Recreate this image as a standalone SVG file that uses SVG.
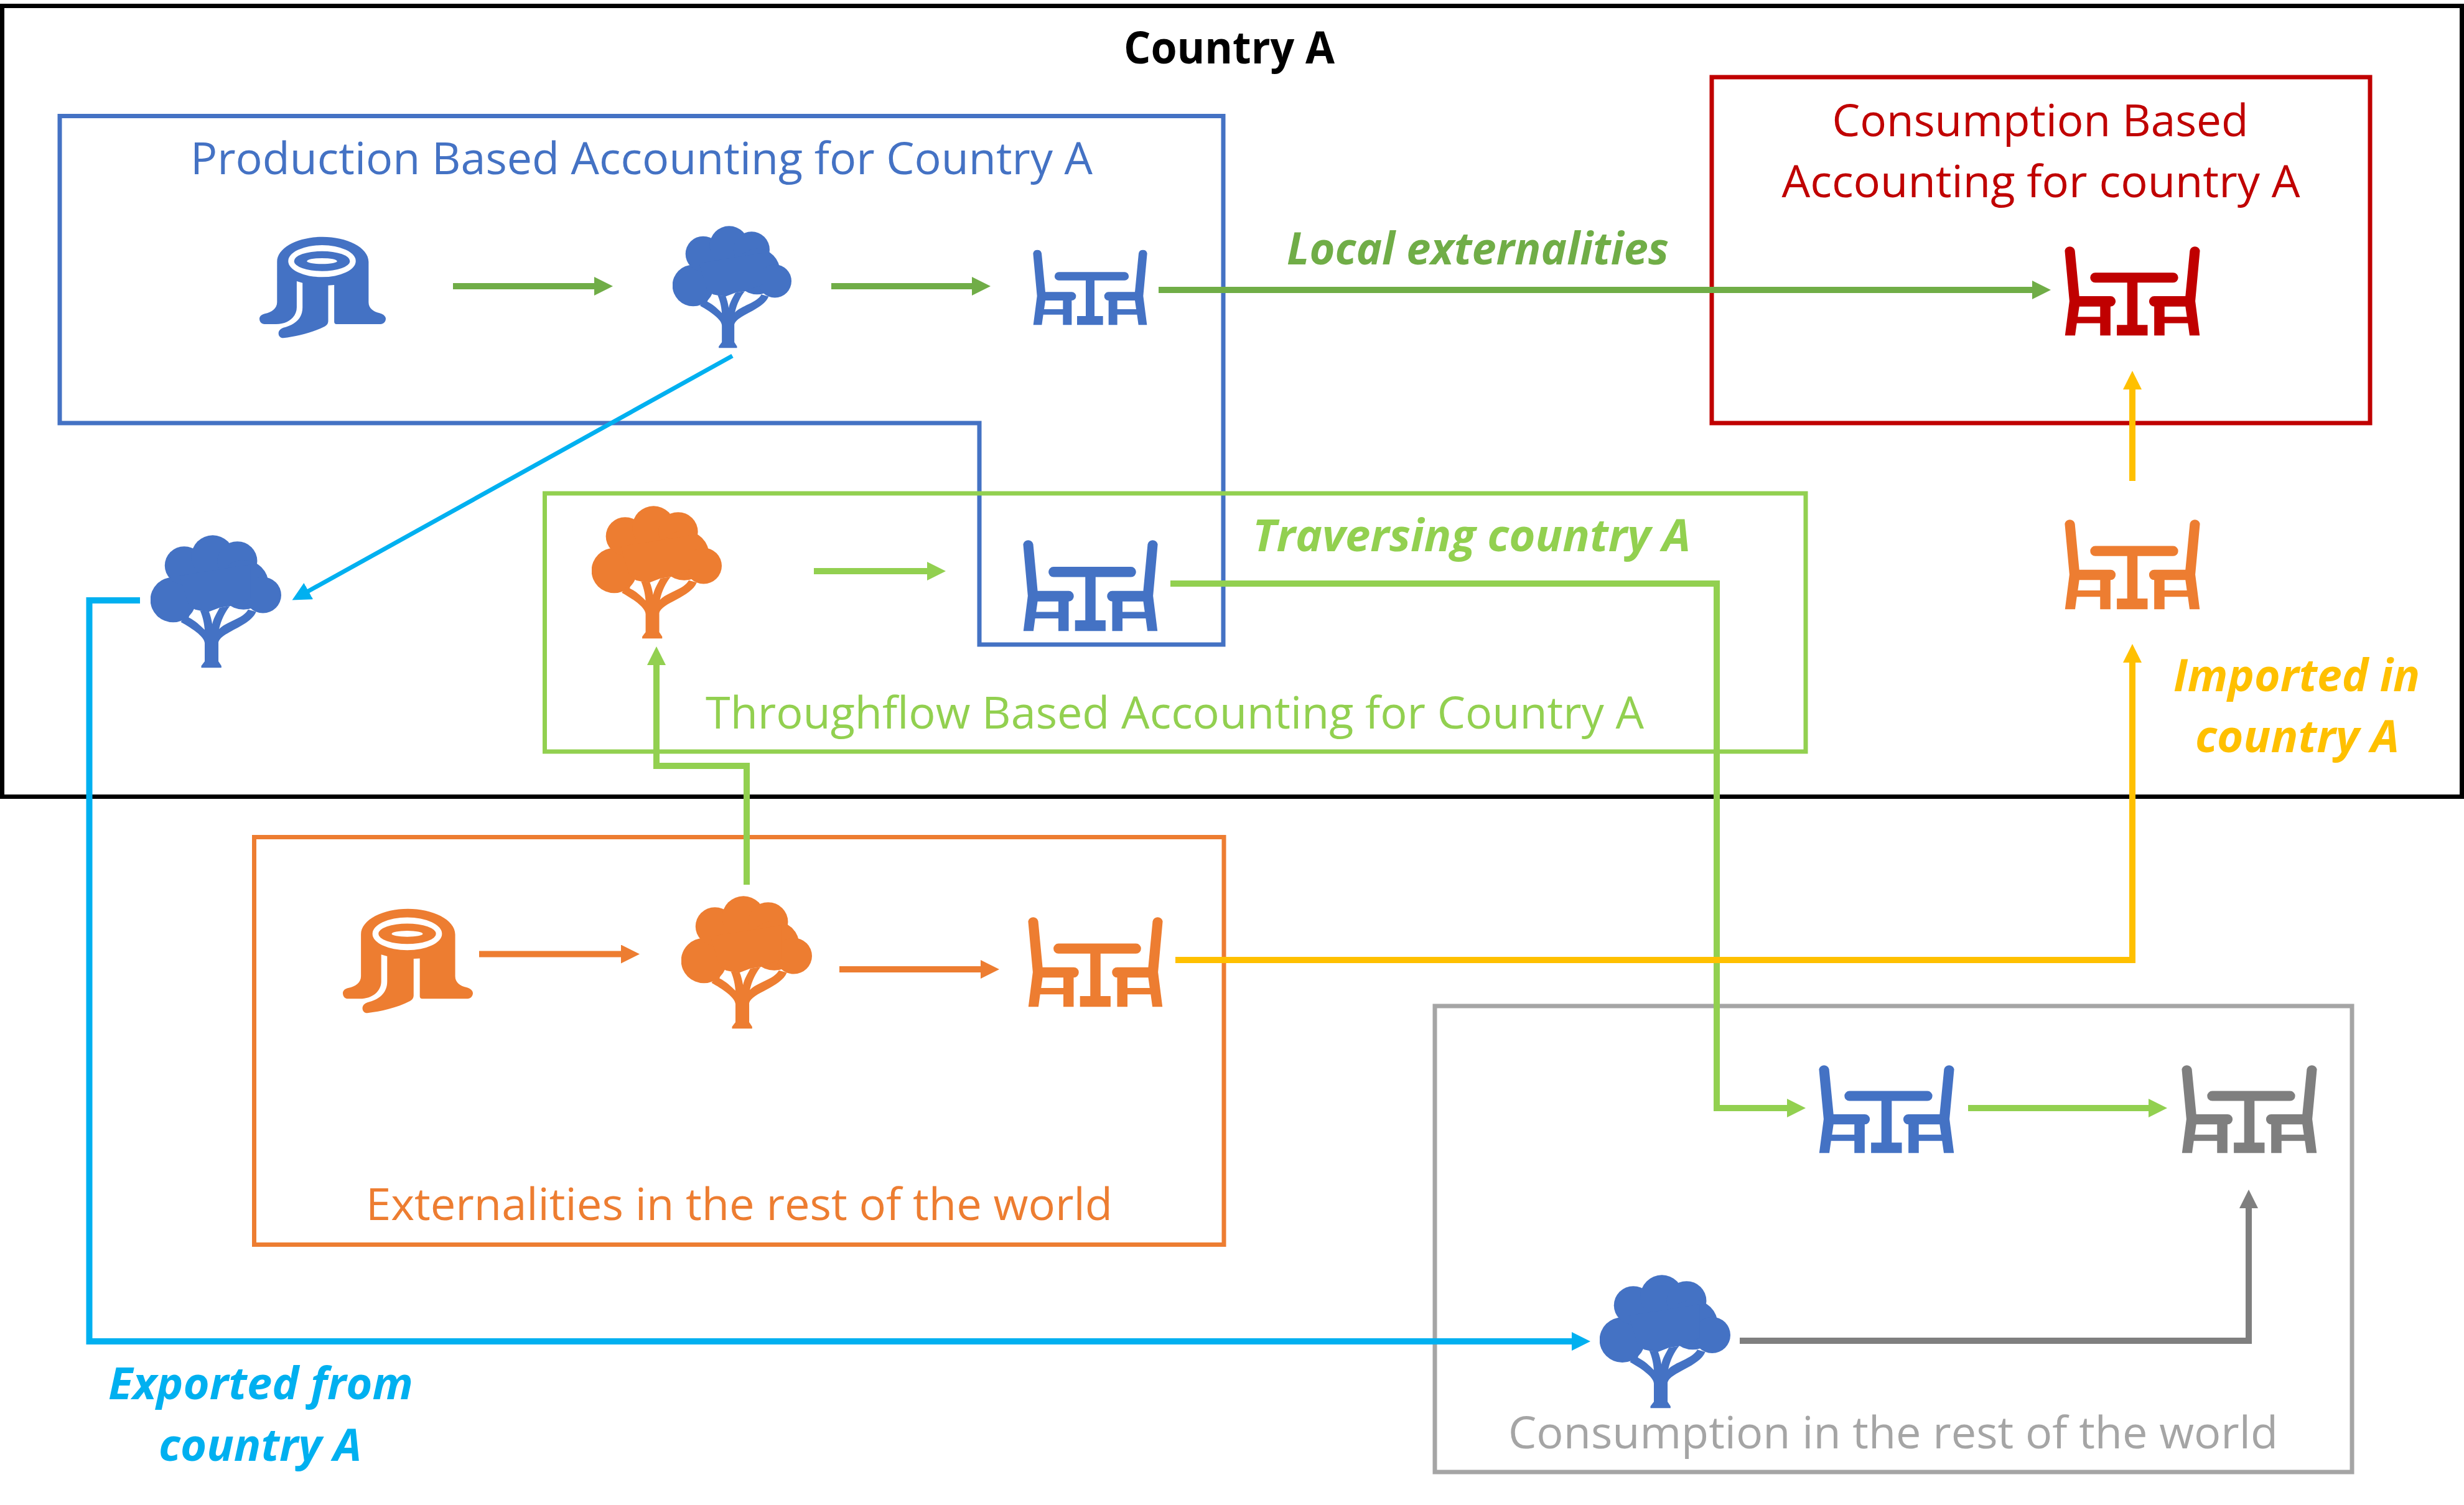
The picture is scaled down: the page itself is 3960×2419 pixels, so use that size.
<svg xmlns="http://www.w3.org/2000/svg" width="3960" height="2419" viewBox="0 0 3960 2419">
<style>
text{font-family:"Open Sans","Noto Sans","Liberation Sans",sans-serif;font-size:72px}
.b{font-weight:700;font-style:italic}
.box{fill:none;stroke-width:7}
.c{fill:none;stroke-width:10}
.thin{stroke-width:7}
.blue{fill:#4472C4}.orange{fill:#ED7D31}.red{fill:#C00000}.gray{fill:#7F7F7F}.lg{fill:#92D050}.mg{fill:#70AD47}.cy{fill:#00B0F0}.ye{fill:#FFC000}.dg{fill:#A5A5A5}
</style>
<defs>
<symbol id="tree" viewBox="123 70 572 590" preserveAspectRatio="none">
<circle cx="222" cy="357" r="100"/><circle cx="270" cy="205" r="85"/><circle cx="395" cy="165" r="94"/><circle cx="503" cy="185" r="87"/><circle cx="530" cy="290" r="110"/><circle cx="615" cy="336" r="80"/>
<path d="M250 250L560 200V350L470 385L425 392L378 410L340 405L318 400L290 380Z"/>
<path d="M255 455C300 480 360 520 360 550V630L345 650V658H433V650L420 630V545C430 500 560 475 585 410L550 400C530 440 450 455 423 487C432 445 450 410 470 385L425 392C410 420 398 440 393 465C390 445 385 425 378 408L340 405C355 440 358 470 360 490C340 470 320 450 290 435L300 400Z"/>
</symbol>
<symbol id="stump" viewBox="110 118 610 492" preserveAspectRatio="none">
<path fill-rule="evenodd" d="M195 240C195 170 300 120 415 120C530 120 637 170 637 240V435C637 465 660 480 690 488C710 493 720 505 720 515C720 530 708 541 695 541H482C475 541 471 537 471 530V352L442 354V525C442 535 438 545 425 552C360 585 290 600 225 608C210 608 202 597 202 585C202 572 212 563 225 558C280 545 318 515 318 460V342L290 334V460C290 505 250 541 190 541H135C120 541 110 530 110 515C110 503 120 495 135 491C170 483 195 465 195 435ZM249 237a163 77 0 1 0 326 0a163 77 0 1 0-326 0ZM277 237a135 48 0 1 0 270 0a135 48 0 1 0-270 0ZM339 237a73 14 0 1 0 146 0a73 14 0 1 0-146 0Z"/>
</symbol>
<symbol id="chair" viewBox="120 90 552 370" preserveAspectRatio="none">
<path fill-rule="evenodd" d="M121 112A21 21 0 0 1 162 112L180 298H307A21 21 0 0 1 307 340V458H265V408H170L163 458H122L140 318ZM180 340H265V382H174ZM671 112A21 21 0 0 0 630 112L612 298H485A21 21 0 0 0 485 340V458H527V408H622L629 458H670L652 318ZM612 340H527V382H618Z"/>
<path d="M245 202H562A20 20 0 0 1 562 243H417V415H458V458H333V415H375V243H245A20 20 0 0 1 245 202Z"/>
</symbol>
<marker id="aMg" markerUnits="userSpaceOnUse" markerWidth="32" markerHeight="32" refX="2" refY="15" orient="auto"><path class="mg" d="M0 0L30 15L0 30Z"/></marker>
<marker id="aLg" markerUnits="userSpaceOnUse" markerWidth="32" markerHeight="32" refX="2" refY="15" orient="auto"><path class="lg" d="M0 0L30 15L0 30Z"/></marker>
<marker id="aCy" markerUnits="userSpaceOnUse" markerWidth="32" markerHeight="32" refX="2" refY="15" orient="auto"><path class="cy" d="M0 0L30 15L0 30Z"/></marker>
<marker id="aYe" markerUnits="userSpaceOnUse" markerWidth="32" markerHeight="32" refX="2" refY="15" orient="auto"><path class="ye" d="M0 0L30 15L0 30Z"/></marker>
<marker id="aOr" markerUnits="userSpaceOnUse" markerWidth="32" markerHeight="32" refX="2" refY="15" orient="auto"><path class="orange" d="M0 0L30 15L0 30Z"/></marker>
<marker id="aGr" markerUnits="userSpaceOnUse" markerWidth="32" markerHeight="32" refX="2" refY="15" orient="auto"><path class="gray" d="M0 0L30 15L0 30Z"/></marker>
</defs>
<rect width="3960" height="2419" fill="#fff"/>
<g id="country-a"><rect class="box" x="3.5" y="9.5" width="3953" height="1271" stroke="#000"/>
<text x="1975.5" y="102" text-anchor="middle" font-weight="700" fill="#000" textLength="339" lengthAdjust="spacingAndGlyphs">Country A</text></g>
<g id="production-box"><path class="box" stroke="#4472C4" d="M96 186.5H1966V1036H1574V680H96Z"/>
<text class="blue" x="306" y="280" textLength="1450" lengthAdjust="spacingAndGlyphs">Production Based Accounting for Country A</text></g>
<g id="consumption-box"><rect class="box" x="2751" y="124" width="1058" height="556" stroke="#C00000"/>
<text class="red" x="3279" y="219" text-anchor="middle" textLength="669" lengthAdjust="spacingAndGlyphs">Consumption Based</text>
<text class="red" x="3280" y="317" text-anchor="middle" textLength="833" lengthAdjust="spacingAndGlyphs">Accounting for country A</text></g>
<g id="throughflow-box"><rect class="box" x="875.5" y="793" width="2026.5" height="415" stroke="#92D050"/>
<text class="lg" x="1134" y="1171" textLength="1508" lengthAdjust="spacingAndGlyphs">Throughflow Based Accounting for Country A</text></g>
<g id="externalities-box"><rect class="box" x="408.5" y="1345.5" width="1558.5" height="655" stroke="#ED7D31"/>
<text class="orange" x="588" y="1961" textLength="1200" lengthAdjust="spacingAndGlyphs">Externalities in the rest of the world</text></g>
<g id="rest-box"><rect class="box" x="2306" y="1617" width="1474" height="749" stroke="#A5A5A5"/>
<text class="dg" x="2424" y="2328" textLength="1237" lengthAdjust="spacingAndGlyphs">Consumption in the rest of the world</text></g>
<g id="stump-a"><use class="blue" href="#stump" x="417" y="380" width="203" height="164"/></g>
<g id="tree-a"><use class="blue" href="#tree" x="1081" y="363" width="191" height="197"/></g>
<g id="chair-a"><use class="blue" href="#chair" x="1660" y="400" width="184" height="123"/></g>
<g id="chair-red"><use class="red" href="#chair" x="3318" y="394" width="218" height="146"/></g>
<g id="chair-imported"><use class="orange" href="#chair" x="3318" y="833" width="218" height="147"/></g>
<g id="chair-traversing"><use class="blue" href="#chair" x="1644" y="866" width="217" height="149"/></g>
<g id="tree-exported"><use class="blue" href="#tree" x="242" y="860" width="210" height="214"/></g>
<g id="tree-traversing"><use class="orange" href="#tree" x="951" y="813" width="209" height="214"/></g>
<g id="stump-row"><use class="orange" href="#stump" x="551" y="1460" width="209" height="169"/></g>
<g id="tree-row"><use class="orange" href="#tree" x="1095" y="1440" width="210" height="214"/></g>
<g id="chair-row"><use class="orange" href="#chair" x="1652" y="1472" width="217" height="147"/></g>
<g id="chair-rest-blue"><use class="blue" href="#chair" x="2923" y="1710" width="218" height="144"/></g>
<g id="chair-rest-gray"><use class="gray" href="#chair" x="3506" y="1710" width="218" height="144"/></g>
<g id="tree-rest"><use class="blue" href="#tree" x="2571" y="2049" width="210" height="215"/></g>
<g id="connectors">
<path class="c" stroke="#70AD47" marker-end="url(#aMg)" d="M728 460H957"/>
<path class="c" stroke="#70AD47" marker-end="url(#aMg)" d="M1336 460H1564"/>
<path class="c" stroke="#70AD47" marker-end="url(#aMg)" d="M1862 466H3268"/>
<path class="c thin" stroke="#00B0F0" marker-end="url(#aCy)" d="M1177 572L494 951"/>
<path class="c" stroke="#00B0F0" marker-end="url(#aCy)" d="M225 965H143.500V2156H2528"/>
<path class="c" stroke="#92D050" marker-end="url(#aLg)" d="M1308 918H1492"/>
<path class="c" stroke="#92D050" marker-end="url(#aLg)" d="M1881 938H2759V1781H2874"/>
<path class="c" stroke="#92D050" marker-end="url(#aLg)" d="M3163 1781H3455"/>
<path class="c" stroke="#92D050" marker-end="url(#aLg)" d="M1200 1422V1231H1055V1067"/>
<path class="c" stroke="#ED7D31" marker-end="url(#aOr)" d="M770 1533.500H1000"/>
<path class="c" stroke="#ED7D31" marker-end="url(#aOr)" d="M1349 1558H1578"/>
<path class="c" stroke="#FFC000" marker-end="url(#aYe)" d="M1889 1543H3427V1063"/>
<path class="c" stroke="#FFC000" marker-end="url(#aYe)" d="M3427 773V624"/>
<path class="c" stroke="#7F7F7F" marker-end="url(#aGr)" d="M2796 2155H3614V1940"/>
</g>
<g id="flow-labels">
<text class="b mg" x="2068" y="425" textLength="614" lengthAdjust="spacingAndGlyphs">Local externalities</text>
<text class="b lg" x="2013" y="886" textLength="704" lengthAdjust="spacingAndGlyphs">Traversing country A</text>
<text class="b ye" x="3493" y="1111" textLength="396" lengthAdjust="spacingAndGlyphs">Imported in</text>
<text class="b ye" x="3528" y="1209" textLength="328" lengthAdjust="spacingAndGlyphs">country A</text>
<text class="b cy" x="174" y="2249" textLength="490" lengthAdjust="spacingAndGlyphs">Exported from</text>
<text class="b cy" x="255" y="2348" textLength="326" lengthAdjust="spacingAndGlyphs">country A</text>
</g>
</svg>
